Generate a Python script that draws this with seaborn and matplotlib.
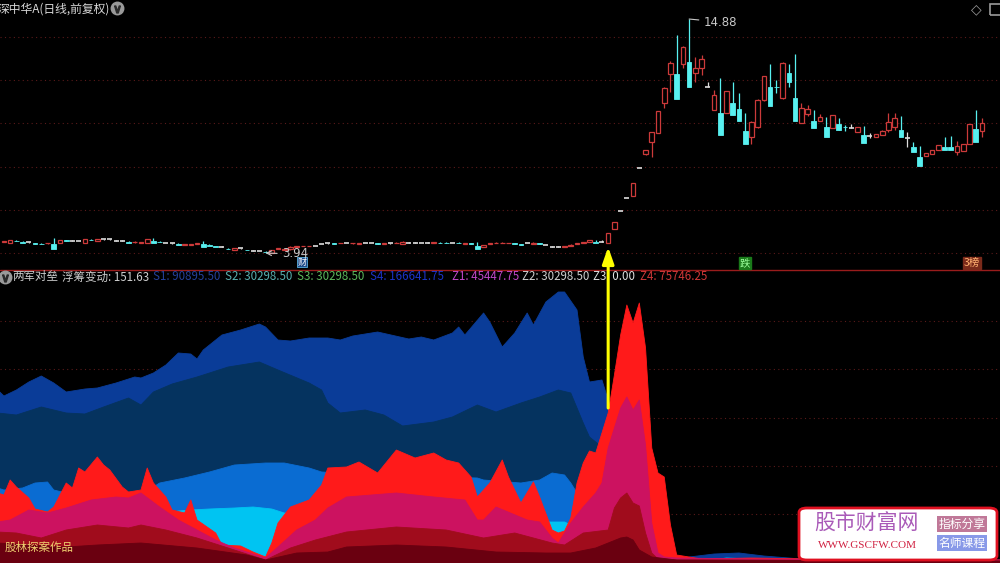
import numpy as np
import matplotlib
matplotlib.use("Agg")
import matplotlib.pyplot as plt
import seaborn as sns
from matplotlib.patches import Rectangle, FancyBboxPatch, ConnectionPatch
from matplotlib.lines import Line2D

# ---------------- price candles (day index 0..157) ----------------
opens = [
    4.46, 4.40, 4.52, 4.49, 4.44, 4.41, 4.40, 4.39, 4.63, 4.40, 4.56, 4.52, 4.50, 4.43, 4.59, 4.49,
    4.58, 4.58, 4.52, 4.52, 4.49, 4.44, 4.43, 4.43, 4.63, 4.48, 4.40, 4.39, 4.37, 4.33, 4.33, 4.37,
    4.47, 4.33, 4.28, 4.24, 4.18, 4.08, 4.16, 4.09, 4.05, 4.04, 4.03, 3.96, 4.14, 4.10, 4.11, 4.22,
    4.26, 4.26, 4.27, 4.35, 4.39, 4.40, 4.39, 4.40, 4.39, 4.38, 4.40, 4.41, 4.40, 4.38, 4.40, 4.41,
    4.35, 4.43, 4.43, 4.40, 4.43, 4.42, 4.44, 4.44, 4.40, 4.44, 4.38, 4.41, 4.43, 4.24, 4.38, 4.42,
    4.42, 4.42, 4.41, 4.36, 4.40, 4.35, 4.41, 4.32, 4.24, 4.24, 4.22, 4.29, 4.37, 4.40, 4.46, 4.55,
    4.44, 4.41, 5.06, 5.91, 6.51, 6.61, 7.92, 8.55, 9.13, 9.55, 10.95, 12.31, 13.48, 12.78, 14.04, 12.36,
    12.59, 11.70, 10.63, 11.52, 10.49, 11.52, 11.24, 10.25, 9.36, 9.83, 11.09, 12.59, 11.72, 11.19, 12.78, 12.26,
    10.02, 10.44, 10.44, 10.11, 10.30, 9.79, 10.25, 9.85, 9.79, 9.60, 9.83, 9.41, 9.36, 9.46, 9.69, 9.83,
    10.02, 9.32, 9.13, 8.85, 8.48, 8.57, 8.76, 9.04, 9.04, 8.66, 8.71, 9.04, 10.35, 9.65,
]
highs = [
    4.50, 4.56, 4.55, 4.50, 4.47, 4.41, 4.40, 4.42, 4.64, 4.56, 4.57, 4.53, 4.51, 4.59, 4.60, 4.59,
    4.59, 4.58, 4.53, 4.55, 4.50, 4.48, 4.47, 4.59, 4.65, 4.49, 4.41, 4.40, 4.39, 4.37, 4.37, 4.42,
    4.48, 4.34, 4.29, 4.25, 4.19, 4.17, 4.17, 4.10, 4.06, 4.05, 4.05, 4.09, 4.18, 4.14, 4.25, 4.26,
    4.29, 4.28, 4.28, 4.36, 4.40, 4.41, 4.41, 4.41, 4.42, 4.42, 4.41, 4.42, 4.41, 4.42, 4.43, 4.44,
    4.48, 4.44, 4.44, 4.41, 4.44, 4.45, 4.45, 4.45, 4.41, 4.46, 4.42, 4.43, 4.44, 4.33, 4.42, 4.44,
    4.44, 4.43, 4.42, 4.37, 4.41, 4.44, 4.42, 4.33, 4.25, 4.25, 4.26, 4.34, 4.41, 4.45, 4.56, 4.56,
    4.55, 4.88, 5.39, 5.91, 6.51, 7.21, 7.92, 8.78, 9.62, 10.58, 11.70, 12.90, 14.13, 13.60, 14.88, 13.10,
    13.20, 11.94, 11.56, 12.12, 11.52, 11.94, 11.42, 10.49, 10.10, 11.12, 12.24, 12.78, 12.03, 12.87, 12.80, 13.25,
    10.95, 10.85, 10.62, 10.42, 10.32, 10.41, 10.27, 9.92, 9.97, 9.85, 9.88, 9.55, 9.52, 9.67, 10.49, 10.49,
    10.35, 9.60, 9.15, 8.94, 8.64, 8.78, 9.01, 9.36, 9.41, 9.18, 9.06, 9.99, 10.63, 10.26,
]
lows = [
    4.45, 4.39, 4.48, 4.45, 4.42, 4.38, 4.37, 4.38, 4.36, 4.39, 4.52, 4.51, 4.49, 4.42, 4.57, 4.48,
    4.57, 4.57, 4.51, 4.50, 4.45, 4.43, 4.42, 4.42, 4.51, 4.45, 4.39, 4.38, 4.35, 4.32, 4.32, 4.36,
    4.34, 4.30, 4.25, 4.23, 4.14, 4.07, 4.15, 4.07, 4.04, 4.03, 3.94, 3.95, 4.13, 4.09, 4.10, 4.21,
    4.25, 4.25, 4.26, 4.34, 4.38, 4.38, 4.39, 4.39, 4.38, 4.37, 4.39, 4.40, 4.38, 4.37, 4.38, 4.40,
    4.34, 4.42, 4.42, 4.39, 4.42, 4.41, 4.41, 4.41, 4.39, 4.41, 4.37, 4.38, 4.26, 4.23, 4.37, 4.41,
    4.41, 4.41, 4.38, 4.33, 4.39, 4.34, 4.38, 4.31, 4.23, 4.22, 4.21, 4.28, 4.36, 4.39, 4.45, 4.46,
    4.44, 4.41, 5.06, 5.91, 6.51, 6.61, 7.92, 8.52, 8.43, 9.55, 10.72, 11.47, 12.28, 12.59, 12.59, 11.94,
    12.26, 11.70, 10.63, 10.35, 10.49, 10.39, 10.62, 9.60, 9.04, 9.80, 11.05, 11.00, 11.42, 11.15, 11.70, 11.17,
    10.00, 10.35, 10.08, 10.10, 9.80, 9.77, 9.69, 9.66, 9.79, 9.58, 9.22, 9.32, 9.35, 9.45, 9.62, 9.69,
    9.67, 8.90, 8.88, 8.38, 8.46, 8.55, 8.74, 8.88, 8.88, 8.52, 8.69, 9.02, 9.72, 9.36,
]
closes = [
    4.49, 4.55, 4.50, 4.46, 4.44, 4.39, 4.38, 4.41, 4.37, 4.55, 4.54, 4.52, 4.50, 4.58, 4.57, 4.58,
    4.58, 4.58, 4.52, 4.52, 4.46, 4.47, 4.46, 4.58, 4.52, 4.46, 4.40, 4.39, 4.35, 4.36, 4.36, 4.41,
    4.35, 4.31, 4.26, 4.24, 4.15, 4.16, 4.16, 4.08, 4.05, 4.04, 4.00, 4.08, 4.17, 4.13, 4.24, 4.25,
    4.28, 4.27, 4.27, 4.35, 4.39, 4.39, 4.40, 4.40, 4.41, 4.41, 4.40, 4.41, 4.39, 4.41, 4.40, 4.43,
    4.47, 4.43, 4.43, 4.40, 4.43, 4.44, 4.42, 4.42, 4.40, 4.42, 4.41, 4.39, 4.27, 4.32, 4.41, 4.43,
    4.43, 4.43, 4.39, 4.34, 4.40, 4.43, 4.39, 4.32, 4.24, 4.24, 4.25, 4.33, 4.40, 4.44, 4.55, 4.47,
    4.44, 4.88, 5.39, 5.91, 6.51, 7.21, 7.92, 8.76, 9.60, 10.58, 11.66, 12.82, 12.31, 13.57, 12.87, 12.59,
    13.00, 11.70, 11.33, 10.49, 11.52, 10.95, 10.67, 9.65, 10.07, 11.09, 12.22, 11.70, 11.70, 12.82, 12.36, 11.19,
    10.72, 10.67, 10.11, 10.30, 9.83, 10.39, 9.97, 9.83, 9.79, 9.83, 9.46, 9.41, 9.50, 9.65, 10.07, 10.25,
    9.69, 9.32, 8.90, 8.43, 8.62, 8.76, 8.99, 8.90, 8.90, 8.94, 9.04, 9.97, 9.74, 10.02,
]
price_grid = [3.94, 5.96, 7.98, 10.00, 12.02, 14.04]

# ---------------- 两军对垒 layers (day, value) ----------------
s1_days = [-1, 0, 2, 4, 6, 8, 10, 13, 15, 18, 21, 22, 24, 26, 28, 30, 31, 32, 35, 38, 41, 42, 44, 46,
           49, 52, 54, 56, 60, 65, 67, 69, 72, 73, 74, 77, 78, 80, 82, 84, 85, 87, 89, 90, 92, 93,
           94, 96, 97, 98, 108, 110, 114, 118, 122, 126, 130, 140, 150, 160]
s1_vals = [173, 167, 173, 181, 187, 180, 171, 174, 175, 180, 186, 185, 190, 198, 210, 209, 204, 213,
           228, 233, 239, 236, 223, 222, 225, 225, 223, 227, 231, 224, 226, 223, 230, 236, 228, 250,
           241, 216, 230, 250, 238, 261, 271, 271, 253, 206, 181, 183, 163, 0, 0, 6, 9, 10, 7, 5, 3,
           4, 3, 3]

s2_days = [-1, 2, 6, 10, 13, 16, 20, 22, 24, 27, 31, 36, 41, 44, 49, 51, 52, 54, 58, 61, 64, 69, 72,
           76, 79, 83, 86, 89, 91, 93, 94, 96, 98, 160]
s2_vals = [150, 148, 156, 150, 149, 156, 165, 158, 171, 179, 186, 196, 201, 193, 180, 173, 160, 150,
           153, 148, 137, 141, 146, 158, 151, 160, 166, 173, 170, 140, 126, 116, 0, 0]

s3_days = [-1, 0, 3, 5, 7, 8, 10, 14, 19, 22, 24, 25, 29, 33, 37, 42, 45, 49, 51, 60, 70, 76, 77, 83,
           86, 88, 90, 91, 93, 96, 98, 112, 120, 160]
s3_vals = [75, 73, 75, 80, 81, 73, 70, 68, 68, 70, 76, 80, 85, 91, 98, 100, 100, 95, 91, 88, 86, 85,
           83, 80, 83, 90, 88, 80, 60, 30, 0, 0, 4, 2]

s4_days = [-1, 5, 8, 10, 20, 25, 28, 30, 33, 37, 40, 43, 45, 50, 60, 70, 80, 86, 88, 90, 91, 93, 96,
           110, 116, 124, 160]
s4_vals = [45, 45, 45, 45, 45, 48, 52, 53, 54, 55, 56, 54, 50, 48, 45, 42, 42, 41, 41, 41, 38, 20, 0,
           0, 5, 3, 2]

z1_days = [-1, 0, 1, 2, 4, 5, 7, 8, 10, 11, 12, 13, 15, 16, 17, 19, 20, 22, 23, 24, 26, 27, 29, 30,
           31, 34, 35, 38, 40, 42, 43, 44, 46, 49, 51, 52, 55, 57, 60, 63, 66, 69, 71, 73, 75, 76,
           78, 80, 81, 83, 85, 86, 88, 89, 90, 91, 92, 93, 94, 95, 96, 97, 98, 99, 100, 101, 102,
           103, 104, 105, 106, 107, 108, 112, 120, 130, 140, 150, 160]
z1_vals = [70, 68, 83, 76, 65, 54, 51, 56, 80, 75, 95, 91, 106, 98, 93, 76, 71, 73, 95, 80, 66, 53,
           50, 63, 43, 30, 18, 17, 11, 6, 20, 40, 56, 63, 78, 95, 96, 101, 90, 113, 105, 110, 103,
           100, 86, 66, 80, 103, 86, 60, 81, 66, 33, 30, 32, 45, 80, 100, 112, 110, 130, 150, 188,
           228, 258, 240, 260, 215, 115, 90, 86, 38, 8, 4, 5, 4, 3, 3, 3]

z2_days = [-1, 1, 4, 7, 10, 14, 18, 20, 22, 25, 28, 31, 34, 37, 42, 44, 47, 50, 52, 55, 63, 69, 74,
           76, 77, 79, 84, 86, 88, 89, 91, 93, 95, 96, 97, 98, 99, 100, 101, 102, 103, 104, 105,
           106, 108, 120, 160]
z2_vals = [41, 43, 53, 50, 55, 63, 66, 65, 70, 56, 43, 33, 23, 15, 5, 16, 33, 43, 55, 66, 70, 66, 63,
           43, 43, 56, 43, 41, 25, 20, 40, 56, 70, 80, 115, 135, 155, 166, 153, 163, 118, 40, 10, 6,
           5, 4, 3]

z3_days = [-1, 2, 6, 10, 15, 20, 22, 26, 31, 36, 42, 46, 50, 55, 63, 71, 77, 82, 88, 90, 93, 97, 98,
           99, 100, 101, 102, 103, 104, 105, 108, 160]
z3_vals = [31, 30, 25, 33, 38, 35, 38, 33, 25, 15, 3, 15, 23, 31, 36, 33, 25, 30, 20, 18, 30, 33, 55,
           65, 70, 60, 57, 30, 10, 4, 3, 2]

z4_days = [-1, 4, 10, 15, 22, 31, 39, 42, 47, 52, 55, 63, 71, 79, 87, 91, 95, 99, 100, 101, 102, 104,
           108, 160]
z4_vals = [20, 18, 16, 18, 20, 15, 8, 3, 10, 11, 16, 18, 16, 11, 10, 10, 15, 25, 26, 23, 13, 6, 3, 2]

area_grid = [49, 97, 145, 194, 242]

W, H = 1000, 563
RED = "#cc3a3a"
CYAN = "#58f0f0"
GRID = "#5a1a1a"

sns.set_theme(style="dark", rc={"axes.facecolor": "black", "figure.facecolor": "black"})
plt.rcParams["font.family"] = ["Noto Sans CJK SC", "DejaVu Sans"]

fig = plt.figure(figsize=(W / 100, H / 100), dpi=100, facecolor="black")
ax_top = fig.add_axes([0, 293 / H, 1, 270 / H])
ax_bot = fig.add_axes([0, 0, 1, 292 / H])
for ax in (ax_top, ax_bot):
    ax.set_facecolor("black")
    ax.set_xlim(-0.63, 159.9)
    ax.set_xticks([])
    ax.set_yticks([])
    for sp in ax.spines.values():
        sp.set_visible(False)
    ax.grid(False)

# ---------- top: candles ----------
o = np.array(opens); h = np.array(highs); l = np.array(lows); c = np.array(closes)
idx = np.arange(len(o))
up = c > o
dn = c < o
eq = c == o
for g in price_grid:
    ax_top.axhline(g, color=GRID, ls=(0, (1, 3)), lw=0.8, zorder=0.5)

ax_top.vlines(idx[up], l[up], h[up], color=RED, lw=0.9, zorder=2)
ax_top.bar(idx[up], (c - o)[up], bottom=o[up], width=0.74, facecolor="black",
           edgecolor=RED, lw=0.9, zorder=3)
ax_top.vlines(idx[dn], l[dn], h[dn], color=CYAN, lw=0.9, zorder=2)
ax_top.bar(idx[dn], (c - o)[dn], bottom=c[dn], width=0.74, facecolor=CYAN,
           edgecolor=CYAN, lw=0.6, zorder=3)
ax_top.vlines(idx[eq], l[eq], h[eq], color="#dddddd", lw=0.9, zorder=2)
ax_top.hlines(o[eq], idx[eq] - 0.4, idx[eq] + 0.4, color="#dddddd", lw=1.2, zorder=3)
ax_top.set_ylim(3.147, 15.77)

ax_top.annotate("14.88", xy=(110, 14.88), xytext=(112.3, 14.74), color="#c8c8c8",
                fontsize=8.5, va="center", ha="left", family="DejaVu Sans",
                arrowprops=dict(arrowstyle="-", color="#c8c8c8", lw=0.8, shrinkA=1, shrinkB=0))
ax_top.annotate("3.94", xy=(42, 3.94), xytext=(44.6, 3.90), color="#c8c8c8",
                fontsize=8.5, va="center", ha="left", family="DejaVu Sans",
                arrowprops=dict(arrowstyle="->", color="#c8c8c8", lw=0.8, shrinkA=1, shrinkB=0))

# ---------- bottom: stacked areas ----------
for g in area_grid:
    ax_bot.axhline(g, color=GRID, ls=(0, (1, 3)), lw=0.8, zorder=0.5)

layers = [
    (s1_days, s1_vals, "#0a3c98"),
    (s2_days, s2_vals, "#05335f"),
    (s3_days, s3_vals, "#0a6cd2"),
    (s4_days, s4_vals, "#00c4f2"),
    (z1_days, z1_vals, "#ff1a1a"),
    (z2_days, z2_vals, "#cc1260"),
    (z3_days, z3_vals, "#a00c1c"),
    (z4_days, z4_vals, "#6a0010"),
]
for k, (dd, vv, col) in enumerate(layers):
    ax_bot.fill_between(dd, 0, vv, color=col, lw=0, zorder=2 + k)
    sns.lineplot(x=dd, y=vv, ax=ax_bot, color=col, lw=0.6, zorder=2 + k)
ax_bot.set_xlabel("")
ax_bot.set_ylabel("")
ax_bot.set_ylim(0, 292)
ax_bot.set_xlim(-0.63, 159.9)

# separator line
fig.add_artist(Line2D([0, 1], [1 - 270.5 / H] * 2, color="#9a1c1c", lw=1.0,
                      transform=fig.transFigure))

# yellow arrow across panels
arrow = ConnectionPatch(xyA=(97, 155), coordsA=ax_bot.transData,
                        xyB=(97, 4.22), coordsB=ax_top.transData,
                        arrowstyle="-|>,head_width=0.35,head_length=1.0",
                        color="#ffff00", lw=2.2, shrinkA=0, shrinkB=0, zorder=20)
fig.add_artist(arrow)


def ftext(x, y, s, **kw):
    kw.setdefault("va", "center")
    kw.setdefault("ha", "left")
    return fig.text(x / W, 1 - y / H, s, **kw)


def icon(x, y):
    fig.add_artist(Line2D([x / W], [1 - y / H], marker="o", markersize=9, color="#9a9a9a",
                          transform=fig.transFigure))
    fig.add_artist(Line2D([x / W], [1 - y / H - 0.002], marker="$\\vee$", markersize=5,
                          color="#2a2a2a", transform=fig.transFigure))


# header texts
ftext(-2, 9, "深中华A(日线,前复权)", color="#d8d8d8", fontsize=8.5)
icon(117, 8)
ftext(971, 9, "◇", color="#9a9a9a", fontsize=10, family="DejaVu Sans")
fig.add_artist(Rectangle((990 / W, 1 - 15 / H), 12 / W, 11 / H, fill=False,
                         edgecolor="#9a9a9a", lw=1.2, transform=fig.transFigure))

icon(5, 277)
legend_items = [
    (12, "两军对垒", "#d0d0d0"),
    (62, "浮筹变动: 151.63", "#d0d0d0"),
    (153, "S1: 90895.50", "#24409a"),
    (225, "S2: 30298.50", "#58b0b0"),
    (297, "S3: 30298.50", "#5cb85c"),
    (370, "S4: 166641.75", "#1c34c8"),
    (452, "Z1: 45447.75", "#c048c8"),
    (522, "Z2: 30298.50", "#d0d0d0"),
    (593, "Z3: 0.00", "#e0e0e0"),
    (640, "Z4: 75746.25", "#d03838"),
]
for x, s, col in legend_items:
    ftext(x, 277, s, color=col, fontsize=8.3)

# tags on the price panel
ftext(302, 262, "财", color="white", fontsize=6.5, ha="center",
      bbox=dict(boxstyle="square,pad=0.1", facecolor="#1c4a8a", edgecolor="#5ab0e0", lw=0.6))
ftext(745, 263, "跌", color="#9aff9a", fontsize=7.5, ha="center",
      bbox=dict(boxstyle="square,pad=0.1", facecolor="#1a7a1a", edgecolor="#1a7a1a"))
ftext(972, 263, "3榜", color="#ffb070", fontsize=7.5, ha="center",
      bbox=dict(boxstyle="square,pad=0.1", facecolor="#7a2a1a", edgecolor="#7a2a1a"))

ftext(5, 547, "股林探案作品", color="#f0d070", fontsize=8.3, zorder=30)

# watermark box
fig.add_artist(FancyBboxPatch((799 / W, 1 - 560 / H), 198 / W, 52 / H,
                              boxstyle="round,pad=0,rounding_size=0.008",
                              facecolor="white", edgecolor="#e01020", lw=2,
                              transform=fig.transFigure, zorder=40))
ftext(866, 524, "股市财富网", color="#a95ab8", fontsize=15, ha="center", zorder=41)
ftext(867, 545, "WWW.GSCFW.COM", color="#d02040", fontsize=8, ha="center",
      family="Liberation Serif", zorder=41)
ftext(962, 524, "指标分享", color="white", fontsize=8.5, ha="center", zorder=41,
      bbox=dict(boxstyle="square,pad=0.15", facecolor="#c07898", edgecolor="none"))
ftext(962, 543, "名师课程", color="white", fontsize=8.5, ha="center", zorder=41,
      bbox=dict(boxstyle="square,pad=0.15", facecolor="#8899e8", edgecolor="none"))

fig.savefig("out.png", dpi=100, facecolor="black")
